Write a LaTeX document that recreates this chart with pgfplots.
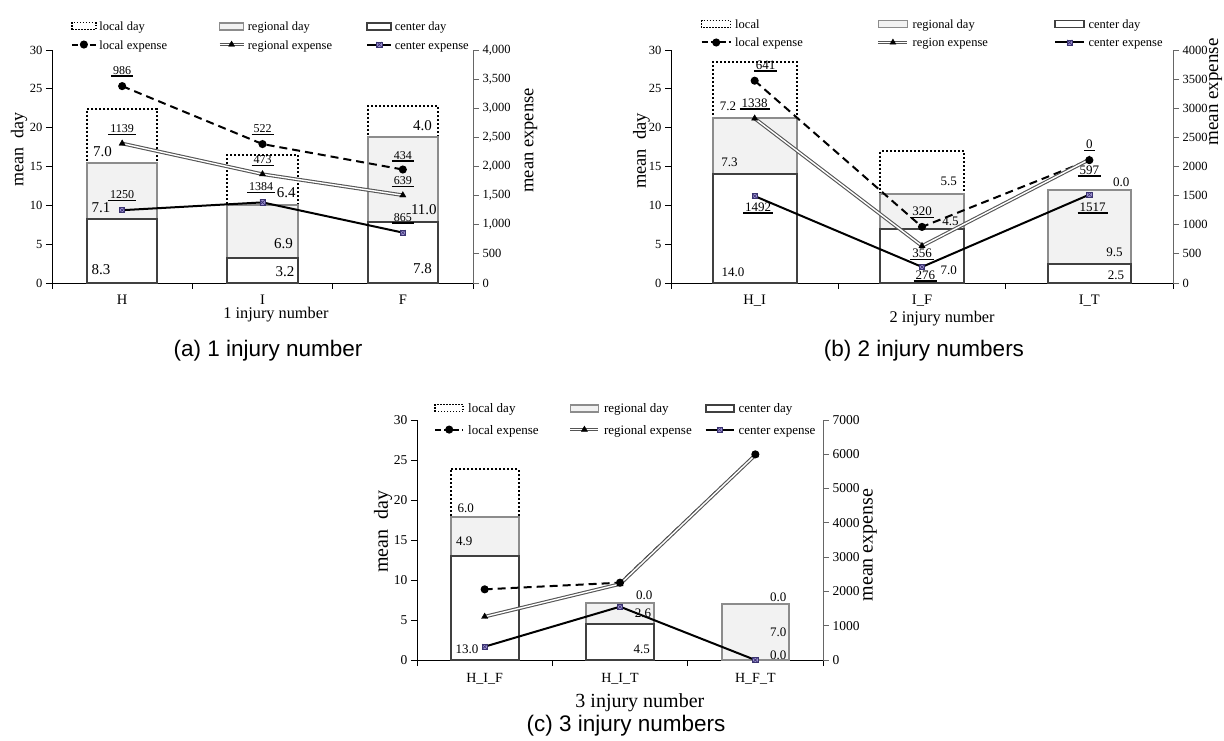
\documentclass[border=0pt]{standalone}
\usepackage{fontspec}
\setmainfont{Liberation Serif}
\newfontfamily\capfont{Liberation Sans}
\usepackage{pgfplots}
\pgfplotsset{compat=1.18}
\newcommand{\fs}[2]{\fontsize{#1}{#2}\selectfont}
\newcommand{\ul}[1]{\vtop{\hbox{\kern2pt#1\kern2pt}\kern0.8pt\hrule height 1.6pt}}
\newcommand{\lgt}[2]{\makebox[#1][l]{\strut #2}}
\definecolor{cbord}{HTML}{404040}
\definecolor{rbord}{HTML}{8C8C8C}
\definecolor{rfill}{HTML}{F2F2F2}
\definecolor{mfill}{HTML}{9C8FD0}
\definecolor{mdraw}{HTML}{3A3370}
\definecolor{rline}{HTML}{555555}
\pgfdeclareplotmark{boxx}{%
  \pgfpathrectangle{\pgfqpoint{-\pgfplotmarksize}{-\pgfplotmarksize}}{\pgfqpoint{2\pgfplotmarksize}{2\pgfplotmarksize}}%
  \pgfusepathqfillstroke
  \pgfpathmoveto{\pgfqpoint{-\pgfplotmarksize}{-\pgfplotmarksize}}%
  \pgfpathlineto{\pgfqpoint{\pgfplotmarksize}{\pgfplotmarksize}}%
  \pgfpathmoveto{\pgfqpoint{-\pgfplotmarksize}{\pgfplotmarksize}}%
  \pgfpathlineto{\pgfqpoint{\pgfplotmarksize}{-\pgfplotmarksize}}%
  \pgfusepathqstroke
}
\def\legW{24pt}
\pgfplotsset{
  dayaxis/.style={
    scale only axis, clip=false, anchor=south west,
    xmin=-0.5, xmax=2.5, ymin=0, ymax=30,
    axis x line*=bottom, axis y line*=left,
    axis line style={-, line width=0.9pt, black},
    xtick={-0.5,0.5,1.5,2.5}, xticklabels={,,,},
    extra x ticks={0,1,2},
    extra x tick style={grid=none, major tick length=0pt},
    ytick={0,5,...,30},
    tick align=outside, major tick length=6pt,
    every tick/.style={black, line width=0.8pt},
    /pgf/number format/assume math mode=true,
  },
  expaxis/.style={
    scale only axis, clip=false, anchor=south west,
    xmin=-0.5, xmax=2.5, ymin=0,
    axis x line=none, axis y line*=right,
    axis line style={-, line width=0.9pt, black!60},
    tick align=outside, major tick length=6pt,
    every tick/.style={black!60, line width=0.8pt},
    scaled y ticks=false,
    /pgf/number format/assume math mode=true,
    legend cell align=left, legend columns=3,
    legend image code/.code={\draw[mark repeat=2,mark phase=2,##1] plot coordinates {(0pt,0pt) (\legW/2,0pt) (\legW,0pt)};},
  },
  areaimg/.style={legend image code/.code={\draw[##1] (0pt,-3.5pt) rectangle (\legW,3.5pt);}},
  regimg/.style={legend image code/.code={%
     \draw[rline,line width=3.4pt] (0pt,0pt)--(\legW,0pt);
     \draw[white,line width=1.3pt] (0pt,0pt)--(\legW,0pt);
     \draw[black,fill=black,line width=0.4pt] plot[only marks, mark=triangle*, mark size=3.5pt] coordinates {(\legW/2,0pt)};}},
  localbar/.style={ybar, bar width=0.5, bar shift=0pt, fill=white, draw=black, line width=2pt, dash pattern=on 2pt off 2pt},
  regbar/.style={ybar, bar width=0.5, bar shift=0pt, fill=rfill, draw=rbord, line width=2pt},
  cenbar/.style={ybar, bar width=0.5, bar shift=0pt, fill=white, draw=cbord, line width=2pt},
  locexp/.style={black, line width=2pt, dash pattern=on 8pt off 5pt, mark=*, mark size=3pt, mark options={solid, fill=black}, forget plot},
  regout/.style={rline, line width=3.6pt, forget plot},
  regin/.style={white, line width=1.4pt, mark=triangle*, mark size=3.6pt, mark options={fill=black, draw=black, line width=0.4pt}, forget plot},
  cenexp/.style={black, line width=2pt, mark=boxx, mark size=2.6pt, mark options={fill=mfill, draw=mdraw, line width=0.6pt}, forget plot},
}
\tikzset{
  labA/.style={inner sep=0pt, font=\fs{15}{18}},
  expA/.style={inner sep=0pt, font=\fs{12}{14}},
  labB/.style={inner sep=0pt, font=\fs{13}{15.6}},
}
\begin{document}
\begin{tikzpicture}
\useasboundingbox (0pt,0pt) rectangle (1224pt,740pt);

% ================= (a) =================
\def\legW{24pt}
\begin{axis}[dayaxis, at={(52pt,457pt)}, width=421pt, height=233pt,
  extra x tick labels={H,I,F},
  xticklabel style={font=\fs{14.5}{17}, yshift=-8.5pt},
  yticklabel style={font=\fs{12.5}{15}},
  xlabel={1 injury number}, ylabel={mean\ \ day},
  every axis x label/.style={at={(axis description cs:0.532,-0.135)}, anchor=center, font=\fs{16.3}{19}},
  every axis y label/.style={at={(axis description cs:-0.078,0.575)}, rotate=90, anchor=center, font=\fs{18}{21}},
]
\addplot[localbar] coordinates {(0,22.4) (1,16.5) (2,22.8)};
\addplot[regbar] coordinates {(0,15.4) (1,10.1) (2,18.8)};
\addplot[cenbar] coordinates {(0,8.3) (1,3.2) (2,7.8)};
\node[expA] at (axis cs:0,27.2) {\ul{986}};
\node[expA] at (axis cs:0,19.7) {\ul{1139}};
\node[labA] at (axis cs:-0.14,16.9) {7.0};
\node[expA] at (axis cs:0,11.2) {\ul{1250}};
\node[labA] at (axis cs:-0.15,9.7) {7.1};
\node[labA] at (axis cs:-0.15,1.7) {8.3};
\node[expA] at (axis cs:1,19.7) {\ul{522}};
\node[expA] at (axis cs:1,15.7) {\ul{473}};
\node[expA] at (axis cs:0.99,12.2) {\ul{1384}};
\node[labA] at (axis cs:1.17,11.6) {6.4};
\node[labA] at (axis cs:1.15,5.1) {6.9};
\node[labA] at (axis cs:1.16,1.5) {3.2};
\node[labA] at (axis cs:2.14,20.3) {4.0};
\node[expA] at (axis cs:2,16.3) {\ul{434}};
\node[expA] at (axis cs:2,13.0) {\ul{639}};
\node[labA] at (axis cs:2.15,9.45) {11.0};
\node[expA] at (axis cs:2,8.3) {\ul{865}};
\node[labA] at (axis cs:2.14,1.85) {7.8};
\end{axis}
\begin{axis}[expaxis, at={(52pt,457pt)}, width=421pt, height=233pt,
  ymax=4000, ytick={0,500,...,4000},
  yticklabel style={font=\fs{12.5}{15}},
  ylabel={mean expense},
  every axis y label/.style={at={(axis description cs:1.138,0.612)}, rotate=90, anchor=center, font=\fs{18.5}{22}},
  legend style={at={(0.0444,1.129)}, anchor=north west, draw=none, fill=none, inner xsep=0pt, inner ysep=0pt,
    font=\fs{12.5}{15}, row sep=6.4pt, nodes={inner sep=0pt},
    /tikz/every odd column/.style={column sep=2.5pt}, /tikz/every even column/.style={column sep=0pt}},
]
\addlegendimage{areaimg, fill=white, draw=black, line width=1.5pt, dash pattern=on 1.5pt off 1.5pt}
\addlegendentry{\lgt{118.5pt}{local day}}
\addlegendimage{areaimg, fill=rfill, draw=rbord, line width=1.8pt}
\addlegendentry{\lgt{118.5pt}{regional day}}
\addlegendimage{areaimg, fill=white, draw=cbord, line width=1.8pt}
\addlegendentry{\lgt{118.5pt}{center day}}
\addlegendimage{black, line width=2pt, dash pattern=on 6pt off 3pt, mark=*, mark size=3pt, mark options={solid, fill=black}}
\addlegendentry{\lgt{118.5pt}{local expense}}
\addlegendimage{regimg}
\addlegendentry{\lgt{118.5pt}{regional expense}}
\addlegendimage{black, line width=2pt, mark=boxx, mark size=2.6pt, mark options={fill=mfill, draw=mdraw, line width=0.6pt}}
\addlegendentry{\lgt{118.5pt}{center expense}}
\addplot[locexp] coordinates {(0,3380) (1,2385) (2,1948)};
\addplot[regout] coordinates {(0,2395) (1,1868) (2,1507)};
\addplot[regin] coordinates {(0,2395) (1,1868) (2,1507)};
\addplot[cenexp] coordinates {(0,1250) (1,1384) (2,865)};
\end{axis}

% ================= (b) =================
\def\legW{29pt}
\begin{axis}[dayaxis, at={(671pt,457pt)}, width=502pt, height=233pt,
  extra x tick labels={H\_I,I\_F,I\_T},
  xticklabel style={font=\fs{14.5}{17}, yshift=-8.5pt},
  yticklabel style={font=\fs{12.5}{15}},
  xlabel={2 injury number}, ylabel={mean\ \ day},
  every axis x label/.style={at={(axis description cs:0.54,-0.152)}, anchor=center, font=\fs{16.3}{19}},
  every axis y label/.style={at={(axis description cs:-0.0588,0.567)}, rotate=90, anchor=center, font=\fs{18.5}{22}},
]
\addplot[localbar] coordinates {(0,28.5) (1,17.0)};
\addplot[regbar] coordinates {(0,21.3) (1,11.5) (2,12.0)};
\addplot[cenbar] coordinates {(0,14.0) (1,7.0) (2,2.5)};
\node[labB] at (axis cs:0.066,27.9) {\ul{641}};
\node[labB] at (axis cs:-0.16,22.7) {7.2};
\node[labB] at (axis cs:0,23.0) {\ul{1338}};
\node[labB] at (axis cs:-0.15,15.5) {7.3};
\node[labB] at (axis cs:0.02,9.6) {\ul{1492}};
\node[labB] at (axis cs:-0.13,1.4) {14.0};
\node[labB] at (axis cs:1.16,13.1) {5.5};
\node[labB] at (axis cs:1.0,9.07) {\ul{320}};
\node[labB] at (axis cs:1.17,7.9) {4.5};
\node[labB] at (axis cs:1.0,3.65) {\ul{356}};
\node[labB] at (axis cs:1.16,1.6) {7.0};
\node[labB] at (axis cs:1.02,0.86) {\ul{276}};
\node[labB] at (axis cs:2.0,17.7) {\ul{0}};
\node[labB] at (axis cs:2.0,14.4) {\ul{597}};
\node[labB] at (axis cs:2.19,13.0) {0.0};
\node[labB] at (axis cs:2.02,9.6) {\ul{1517}};
\node[labB] at (axis cs:2.15,4.0) {9.5};
\node[labB] at (axis cs:2.16,1.0) {2.5};
\end{axis}
\begin{axis}[expaxis, at={(671pt,457pt)}, width=502pt, height=233pt,
  ymax=4000, ytick={0,500,...,4000}, /pgf/number format/1000 sep={},
  yticklabel style={font=\fs{12.5}{15}},
  ylabel={mean expense},
  every axis y label/.style={at={(axis description cs:1.085,0.82)}, rotate=90, anchor=center, font=\fs{19}{22}},
  legend style={at={(0.0588,1.1378)}, anchor=north west, draw=none, fill=none, inner xsep=0pt, inner ysep=0pt,
    font=\fs{12.5}{15}, row sep=6.4pt, nodes={inner sep=0pt},
    /tikz/every odd column/.style={column sep=3.5pt}, /tikz/every even column/.style={column sep=0pt}},
]
\addlegendimage{areaimg, fill=white, draw=black, line width=1.5pt, dash pattern=on 1.5pt off 1.5pt}
\addlegendentry{\lgt{141.5pt}{local}}
\addlegendimage{areaimg, fill=rfill, draw=rbord, line width=1.8pt}
\addlegendentry{\lgt{141.5pt}{regional day}}
\addlegendimage{areaimg, fill=white, draw=cbord, line width=1.8pt}
\addlegendentry{\lgt{141.5pt}{center day}}
\addlegendimage{black, line width=2pt, dash pattern=on 6pt off 3pt, mark=*, mark size=3pt, mark options={solid, fill=black}}
\addlegendentry{\lgt{141.5pt}{local expense}}
\addlegendimage{regimg}
\addlegendentry{\lgt{141.5pt}{region expense}}
\addlegendimage{black, line width=2pt, mark=boxx, mark size=2.6pt, mark options={fill=mfill, draw=mdraw, line width=0.6pt}}
\addlegendentry{\lgt{141.5pt}{center expense}}
\addplot[locexp] coordinates {(0,3473) (1,963) (2,2109)};
\addplot[regout] coordinates {(0,2825) (1,636) (2,2120)};
\addplot[regin] coordinates {(0,2825) (1,636) (2,2120)};
\addplot[cenexp] coordinates {(0,1492) (1,276) (2,1517)};
\end{axis}

% ================= (c) =================
\def\legW{28pt}
\begin{axis}[dayaxis, at={(417pt,80pt)}, width=406pt, height=240pt,
  extra x tick labels={H\_I\_F,H\_I\_T,H\_F\_T},
  xticklabel style={font=\fs{14}{17}, yshift=-10.2pt},
  yticklabel style={font=\fs{13.5}{16}},
  xlabel={3 injury number}, ylabel={mean\ \ day},
  every axis x label/.style={at={(axis description cs:0.549,-0.178)}, anchor=center, font=\fs{20}{24}},
  every axis y label/.style={at={(axis description cs:-0.0837,0.535)}, rotate=90, anchor=center, font=\fs{20}{24}},
]
\addplot[localbar] coordinates {(0,23.9)};
\addplot[regbar] coordinates {(0,17.9) (1,7.1) (2,7.0)};
\addplot[cenbar] coordinates {(0,13.0) (1,4.5)};
\node[labB] at (axis cs:-0.14,19.0) {6.0};
\node[labB] at (axis cs:-0.15,14.9) {4.9};
\node[labB] at (axis cs:-0.13,1.3) {13.0};
\node[labB] at (axis cs:1.18,8.1) {0.0};
\node[labB] at (axis cs:1.17,5.9) {2.6};
\node[labB] at (axis cs:1.16,1.3) {4.5};
\node[labB] at (axis cs:2.17,7.8) {0.0};
\node[labB] at (axis cs:2.17,3.5) {7.0};
\node[labB] at (axis cs:2.17,0.6) {0.0};
\end{axis}
\begin{axis}[expaxis, at={(417pt,80pt)}, width=406pt, height=240pt,
  ymax=7000, ytick={0,1000,...,7000}, /pgf/number format/1000 sep={},
  yticklabel style={font=\fs{13.5}{16}},
  ylabel={mean expense},
  every axis y label/.style={at={(axis description cs:1.1158,0.479)}, rotate=90, anchor=center, font=\fs{20}{24}},
  legend style={at={(0.0419,1.076)}, anchor=north west, draw=none, fill=none, inner xsep=0pt, inner ysep=0pt,
    font=\fs{13}{15.6}, row sep=9pt, nodes={inner sep=0pt},
    /tikz/every odd column/.style={column sep=4pt}, /tikz/every even column/.style={column sep=0pt}},
]
\addlegendimage{areaimg, fill=white, draw=black, line width=1.5pt, dash pattern=on 1.5pt off 1.5pt}
\addlegendentry{\lgt{100.5pt}{local day}}
\addlegendimage{areaimg, fill=rfill, draw=rbord, line width=1.8pt}
\addlegendentry{\lgt{100.5pt}{regional day}}
\addlegendimage{areaimg, fill=white, draw=cbord, line width=1.8pt}
\addlegendentry{\lgt{100.5pt}{center day}}
\addlegendimage{black, line width=2pt, dash pattern=on 6pt off 3pt, mark=*, mark size=3pt, mark options={solid, fill=black}}
\addlegendentry{\lgt{100.5pt}{local expense}}
\addlegendimage{regimg}
\addlegendentry{\lgt{100.5pt}{regional expense}}
\addlegendimage{black, line width=2pt, mark=boxx, mark size=2.6pt, mark options={fill=mfill, draw=mdraw, line width=0.6pt}}
\addlegendentry{\lgt{100.5pt}{center expense}}
\addplot[locexp] coordinates {(0,2061) (1,2255) (2,5998)};
\addplot[regout] coordinates {(0,1264) (1,2216) (2,5979)};
\addplot[regin] coordinates {(0,1264) (1,2216) (2,5979)};
\addplot[cenexp] coordinates {(0,389) (1,1555) (2,0)};
\end{axis}

% captions
\node[font=\capfont\fs{22.5}{27}] at (268pt,389pt) {(a) 1 injury number};
\node[font=\capfont\fs{22.5}{27}] at (924pt,389pt) {(b) 2 injury numbers};
\node[font=\capfont\fs{22.5}{27}] at (626pt,14pt) {(c) 3 injury numbers};
\end{tikzpicture}
\end{document}
